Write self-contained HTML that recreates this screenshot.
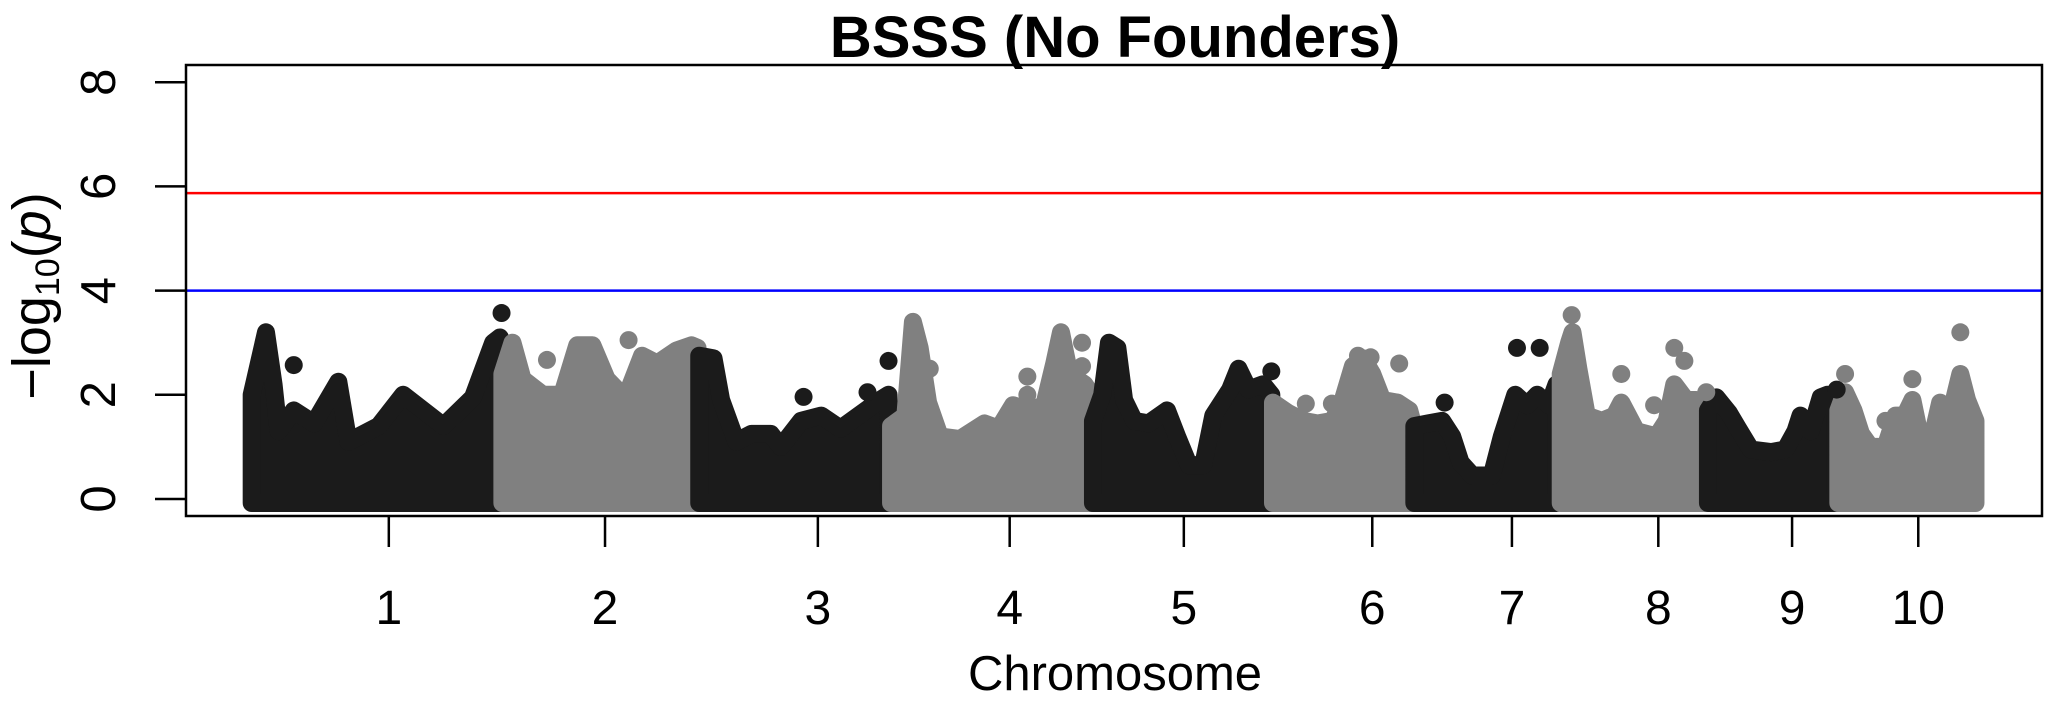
<!DOCTYPE html>
<html><head><meta charset="utf-8"><style>
html,body{margin:0;padding:0;background:#fff}
svg{display:block}
text{font-family:"Liberation Sans",Arial,sans-serif;fill:#000}
</style></head><body>
<svg id="chart" width="2049" height="708" viewBox="0 0 2049 708" xmlns="http://www.w3.org/2000/svg">
<rect x="0" y="0" width="2049" height="708" fill="#fff"/>
<text x="1115" y="57" font-size="58" font-weight="bold" text-anchor="middle">BSSS (No Founders)</text>
<g id="marks"></g>
<g id="axes"></g>
<text x="1115" y="690" font-size="49" text-anchor="middle">Chromosome</text>
<text transform="translate(50,296) rotate(-90)" font-size="54" text-anchor="middle">−log<tspan font-size="34" dy="9">10</tspan><tspan dy="-9">(</tspan><tspan font-style="italic">p</tspan>)</text>
</svg>
<script>
// ---- data ----
const chromosomes = ["1","2","3","4","5","6","7","8","9","10"];
const chromLengths = [299,234,228,240,214,168,174,175,155,167]; // Mb
const tickMb = [165,123,142,142,109,119,117,117,101,96]; // tick position within chromosome
const yTicks = [0,2,4,6,8];
const suggestiveLine = 4.0;
const genomewideLine = 5.87;
// envelope of -log10(p) along each chromosome: [Mb, value]
const env1 = [[2,2.0],[19,3.2],[28,2.2],[34,1.3],[52,1.7],[76,1.45],[105,2.25],[117,1.1],[153,1.4],[182,2.0],[230,1.4],[265,1.95],[289,3.0],[297,3.1]];
const env2 = [[1,2.4],[13,3.0],[25,2.3],[49,2.0],[72,2.0],[90,2.95],[108,2.95],[125,2.3],[137,2.1],[149,2.0],[167,2.75],[185,2.6],[208,2.85],[226,2.95],[233,2.9]];
const env3 = [[1,2.75],[18,2.7],[27,1.9],[45,1.1],[63,1.25],[86,1.25],[98,1.0],[122,1.5],[146,1.6],[169,1.35],[199,1.7],[216,1.9],[226,2.0]];
const env4 = [[1,1.4],[18,1.6],[27,3.4],[35,2.9],[45,1.85],[59,1.2],[83,1.15],[112,1.45],[129,1.35],[146,1.8],[166,1.7],[183,1.8],[195,2.6],[203,3.2],[213,2.4],[231,2.2],[239,2.0]];
const env5 = [[1,1.5],[12,2.0],[20,3.0],[30,2.9],[38,1.9],[50,1.5],[67,1.45],[89,1.7],[101,1.2],[115,0.65],[132,0.65],[144,1.6],[164,2.1],[174,2.5],[186,2.1],[203,2.2],[213,2.0]];
const env6 = [[1,1.85],[19,1.65],[37,1.5],[54,1.45],[72,1.5],[84,1.9],[96,2.55],[108,2.7],[119,2.4],[131,1.9],[149,1.85],[163,1.7],[168,1.4]];
const env7 = [[1,1.4],[17,1.45],[34,1.5],[46,1.2],[56,0.7],[70,0.45],[93,0.45],[105,1.2],[121,2.0],[135,1.8],[147,2.0],[161,1.8],[170,2.2]];
const env8 = [[1,2.4],[11,3.0],[15,3.2],[22,2.5],[32,1.6],[50,1.5],[65,1.6],[73,1.85],[91,1.3],[115,1.2],[127,1.5],[136,2.2],[150,1.9],[162,1.9],[171,1.6]];
const env9 = [[1,1.7],[11,1.95],[26,1.65],[37,1.35],[52,0.95],[76,0.9],[93,0.95],[105,1.3],[111,1.6],[123,1.3],[135,1.95],[143,2.0],[153,1.6]];
const env10 = [[1,1.7],[9,2.05],[19,1.7],[28,1.25],[39,1.0],[57,1.0],[69,1.6],[80,1.6],[89,1.9],[98,1.2],[110,1.0],[122,1.85],[134,1.6],[146,2.4],[154,1.9],[164,1.5]];
const envelopes = [env1,env2,env3,env4,env5,env6,env7,env8,env9,env10];
// isolated SNPs above the mass: [chromosome index, Mb, value]
const outliers = [[0,52,2.57],[0,299,3.57],[1,54,2.67],[1,151,3.05],[2,125,1.96],[2,201,2.05],[2,226,2.65],
 [3,47,2.5],[3,163,2.35],[3,163,2.0],[3,228,3.0],[3,228,2.55],[4,213,2.45],
 [5,40,1.83],[5,71,1.83],[5,102,2.75],[5,117,2.72],[5,151,2.6],
 [6,37,1.85],[6,123,2.9],[6,150,2.9],
 [7,14,3.53],[7,73,2.4],[7,112,1.8],[7,136,2.9],[7,148,2.65],[7,174,2.05],
 [8,154,2.1],[9,9,2.4],[9,57,1.5],[9,89,2.3],[9,146,3.2]];

// ---- scales ----
const NS="http://www.w3.org/2000/svg";
const plot={l:186,r:2042,t:65,b:516};
const offsets=[];let cum=0;chromLengths.forEach(l=>{offsets.push(cum);cum+=l;});
const total=cum;
const X0=250,X1=1978;
const xScale=(ci,mb)=>X0+(offsets[ci]+mb)/total*(X1-X0);
const Y0=499,YPER=52.1;
const yScale=v=>Y0-v*YPER;
const colors=["#1b1b1b","#808080"];

const marks=document.getElementById('marks');
const axes=document.getElementById('axes');
function mk(tag,attrs,parent){const e=document.createElementNS(NS,tag);for(const k in attrs)e.setAttribute(k,attrs[k]);parent.appendChild(e);return e;}

// chromosome point masses
envelopes.forEach((env,ci)=>{
  const base=yScale(0)+4;
  let d=`M${xScale(ci,env[0][0])},${base}`;
  env.forEach(p=>{d+=` L${xScale(ci,p[0])},${yScale(p[1])}`;});
  d+=` L${xScale(ci,env[env.length-1][0])},${base} Z`;
  const c=colors[ci%2];
  const path=mk('path',{d:d,fill:c,stroke:c,'stroke-width':18,'stroke-linejoin':'round'},marks);
  
  
});
outliers.forEach(o=>{
  const c=mk('circle',{cx:xScale(o[0],o[1]),cy:yScale(o[2]),r:9,fill:colors[o[0]%2]},marks);
  
  
});

// threshold lines
const red=mk('line',{x1:plot.l,x2:plot.r,y1:yScale(genomewideLine),y2:yScale(genomewideLine),stroke:'#ff0000','stroke-width':2.5},axes);


const blue=mk('line',{x1:plot.l,x2:plot.r,y1:yScale(suggestiveLine),y2:yScale(suggestiveLine),stroke:'#0000ff','stroke-width':2.5},axes);



// frame
const frame=mk('rect',{x:plot.l,y:plot.t,width:plot.r-plot.l,height:plot.b-plot.t,fill:'none',stroke:'#000','stroke-width':2.5},axes);



// y axis
yTicks.forEach(v=>{
  const y=yScale(v);
  const t=mk('line',{x1:155,x2:plot.l,y1:y,y2:y,stroke:'#000','stroke-width':2.5},axes);
  
  
  const lb=mk('text',{transform:`translate(115,${y}) rotate(-90)`,'font-size':49,'text-anchor':'middle'},axes);
  lb.textContent=String(v);
  
  
});
// x axis
chromosomes.forEach((name,ci)=>{
  const x=xScale(ci,tickMb[ci]);
  const t=mk('line',{x1:x,x2:x,y1:plot.b,y2:547,stroke:'#000','stroke-width':2.5},axes);
  
  
  const lb=mk('text',{x:x,y:624,'font-size':48,'text-anchor':'middle'},axes);
  lb.textContent=name;
  
  
});
</script>
</body></html>
